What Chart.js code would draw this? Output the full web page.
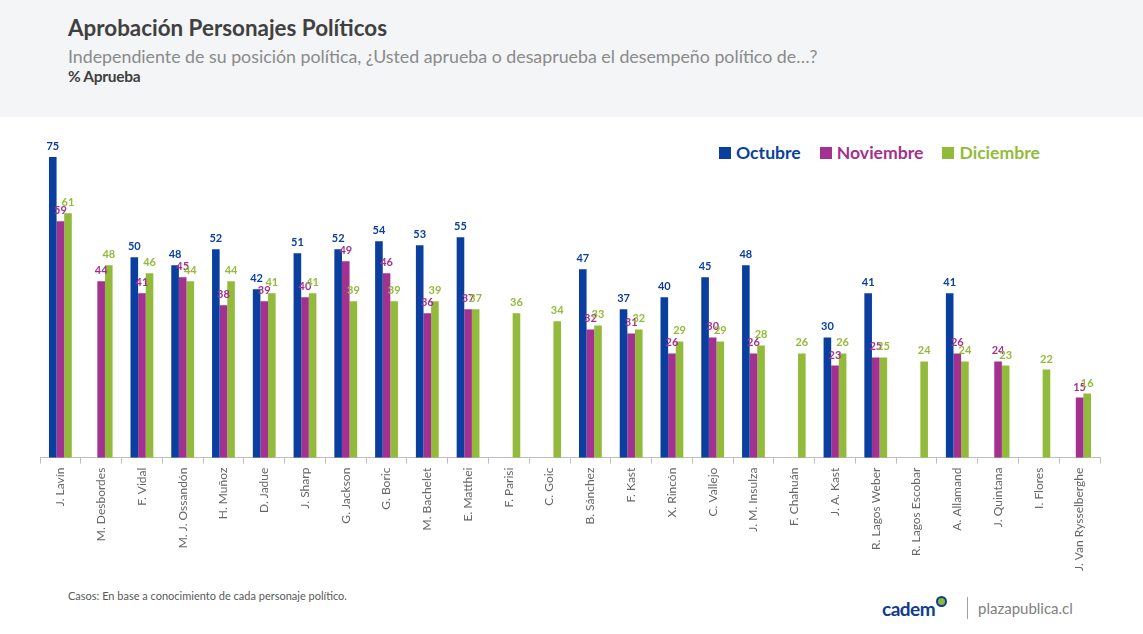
<!DOCTYPE html>
<html>
<head>
<meta charset="utf-8">
<script src="https://cdn.jsdelivr.net/npm/chart.js@4.4.1/dist/chart.umd.min.js"></script>
<style>
  html, body { margin: 0; padding: 0; background: #fff; }
  body { width: 1143px; height: 634px; position: relative; overflow: hidden; font-family: Lato, "Open Sans", sans-serif; }
  .cabecera { position: absolute; left: 0; top: 0; width: 1143px; height: 117px; background: #F4F5F7; }
  .titulo { position: absolute; left: 68px; top: 14px; font-size: 22.4px; font-weight: bold; color: #404040; }
  .subtitulo { position: absolute; left: 68px; top: 45px; font-size: 17.8px; color: #8A8A8A; }
  .unidad { position: absolute; left: 68px; top: 67px; font-size: 15.5px; font-weight: bold; color: #404040; letter-spacing: -0.3px; }
  .leyenda { position: absolute; top: 142px; left: 719px; font-size: 17.6px; font-weight: bold; white-space: nowrap; }
  .leyenda span { display: inline-block; margin-right: 19px; }
  .leyenda i { display: inline-block; width: 12px; height: 12px; margin-right: 5px; vertical-align: 0px; }
  .grafico { position: absolute; left: 0; top: 117px; width: 1143px; height: 462px; }
  .pie { position: absolute; left: 68px; top: 589px; font-size: 11px; color: #595959; }
  .logo { position: absolute; left: 882px; top: 596px; font-size: 19px; font-weight: bold; color: #0E3C8E; letter-spacing: -0.5px; }
  .logo b { display: inline-block; width: 7px; height: 7px; border: 2px solid #0E3C8E; border-radius: 50%; background: #8DB83A; vertical-align: 9px; margin-left: 1px; }
  .sep { position: absolute; left: 967px; top: 597px; width: 1px; height: 22px; background: #A0A0A0; }
  .web { position: absolute; left: 978px; top: 599px; font-size: 15px; color: #808080; }
</style>
</head>
<body>
<div class="cabecera">
  <div class="titulo">Aprobación Personajes Políticos</div>
  <div class="subtitulo">Independiente de su posición política, ¿Usted aprueba o desaprueba el desempeño político de…?</div>
  <div class="unidad">% Aprueba</div>
</div>
<div class="leyenda" id="leyenda"></div>
<div class="grafico"><canvas id="aprobacionChart"></canvas></div>
<div class="pie">Casos: En base a conocimiento de cada personaje político.</div>
<div class="logo">cadem<b></b></div>
<div class="sep"></div>
<div class="web">plazapublica.cl</div>

<script>
// Datos del gráfico
const personajes = ['J. Lavín', 'M. Desbordes', 'F. Vidal', 'M. J. Ossandón', 'H. Muñoz', 'D. Jadue', 'J. Sharp',
    'G. Jackson', 'G. Boric', 'M. Bachelet', 'E. Matthei', 'F. Parisi', 'C. Goic', 'B. Sánchez', 'F. Kast',
    'X. Rincón', 'C. Vallejo', 'J. M. Insulza', 'F. Chahuán', 'J. A. Kast', 'R. Lagos Weber', 'R. Lagos Escobar',
    'A. Allamand', 'J. Quintana', 'I. Flores', 'J. Van Rysselberghe'];
const octubre = [75, null, 50, 48, 52, 42, 51, 52, 54, 53, 55, null, null, 47, 37, 40, 45, 48, null, 30, 41, null, 41, null, null, null];
const noviembre = [59, 44, 41, 45, 38, 39, 40, 49, 46, 36, 37, null, null, 32, 31, 26, 30, 26, null, 23, 25, null, 26, 24, null, 15];
const diciembre = [61, 48, 46, 44, 44, 41, 41, 39, 39, 39, 37, 36, 34, 33, 32, 29, 29, 28, 26, 26, 25, 24, 24, 23, 22, 16];
const meses = ['Octubre', 'Noviembre', 'Diciembre'];
const colores = ['#0A3FA0', '#A3318F', '#93BB3B'];

document.addEventListener('DOMContentLoaded', () => {

    // leyenda en HTML (va encima del área del gráfico)
    const leyenda = document.getElementById('leyenda');
    meses.forEach((m, i) => {
        const s = document.createElement('span');
        s.style.color = colores[i];
        s.innerHTML = '<i style="background:' + colores[i] + '"></i>' + m;
        leyenda.appendChild(s);
    });

    // etiquetas de valor sobre cada barra
    const etiquetas = {
        id: 'etiquetas',
        afterDatasetsDraw(chart) {
            const c = chart.ctx;
            c.save();
            c.font = 'bold 11px Lato, sans-serif';
            c.textAlign = 'center';
            c.textBaseline = 'bottom';
            chart.data.datasets.forEach((ds, i) => {
                const meta = chart.getDatasetMeta(i);
                meta.data.forEach((bar, j) => {
                    if (ds.data[j] === null) return;
                    c.fillStyle = ds.backgroundColor;
                    c.fillText(ds.data[j], bar.x, bar.y - 5);
                });
            });
            c.restore();
        }
    };

    const ctx = document.getElementById('aprobacionChart').getContext('2d');
    new Chart(ctx, {
        type: 'bar',
        data: {
            labels: personajes,
            datasets: [octubre, noviembre, diciembre].map((d, i) => ({
                label: meses[i],
                data: d,
                backgroundColor: colores[i],
                categoryPercentage: 0.56,
                barPercentage: 1
            }))
        },
        options: {
            responsive: true,
            maintainAspectRatio: false,
            animation: false,
            layout: { padding: { left: 40, right: 43, top: 20, bottom: 4 } },
            scales: {
                y: { display: false, min: 0, max: 80 },
                x: {
                    grid: { drawOnChartArea: false, color: '#BFBFBF', tickLength: 6 },
                    border: { color: '#BFBFBF' },
                    ticks: {
                        color: '#666666',
                        font: { size: 12, family: 'Lato, sans-serif' },
                        minRotation: 90,
                        maxRotation: 90,
                        autoSkip: false,
                        padding: 4
                    }
                }
            },
            plugins: { legend: { display: false }, tooltip: { enabled: false } }
        },
        plugins: [etiquetas]
    });
});
</script>
</body>
</html>
